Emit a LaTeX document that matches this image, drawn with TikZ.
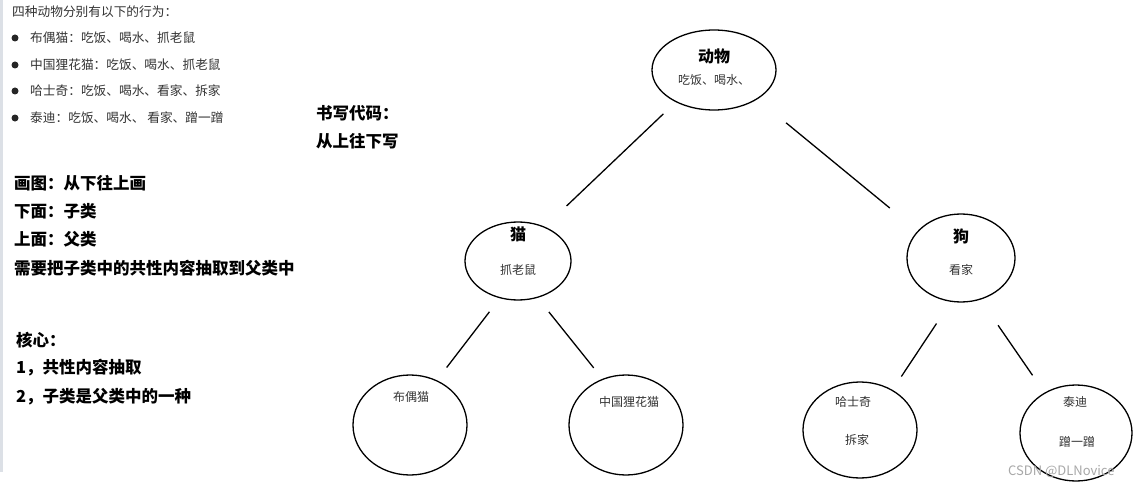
\documentclass[tikz,border=0pt]{standalone}
\usepackage{fontspec}
\usepackage{tikz}
\usetikzlibrary{shapes.geometric}
\newfontfamily\cjk{Noto Sans CJK SC}
\definecolor{ndgray}{HTML}{333333}
\definecolor{ndbar}{HTML}{DCE0E6}
\definecolor{ndmark}{HTML}{A8A8A8}
\tikzset{
  blob/.style   ={ellipse, draw=black, line width=1.3pt, inner sep=0pt},
  link/.style   ={draw=black, line width=1.3pt},
  kind/.style   ={font=\cjk\bfseries\fontsize{16}{18}\selectfont},
  act/.style    ={font=\cjk\fontsize{12}{14}\selectfont, text=ndgray},
  note/.style   ={anchor=west, inner sep=0pt, font=\cjk\fontsize{12.7}{14}\selectfont, text=ndgray},
  memo/.style   ={anchor=west, inner sep=0pt, font=\cjk\bfseries\fontsize{16.5}{18}\selectfont},
  bullet/.style ={circle, fill=black!85, minimum size=7pt, inner sep=0pt},
}
\begin{document}
\begin{tikzpicture}[x=1pt,y=-1pt]
    \fill[white] (0,0) rectangle (1133,487);
    \useasboundingbox (0,0) rectangle (1133,487);
    \fill[ndbar] (0,0) rectangle (3,472);
    % --- left notes ---
    \node[note] (intro) at (12,12) {四种动物分别有以下的行为：};
    \foreach \y/\txt [count=\i] in {38/布偶猫：吃饭、喝水、抓老鼠, 65/中国狸花猫：吃饭、喝水、抓老鼠,
        91/哈士奇：吃饭、喝水、看家、拆家, 118/泰迪：吃饭、喝水、 看家、蹭一蹭}{
      \node[bullet] (b\i) at (15,\y) {};
      \node[note] (l\i) at (30,\y) {\txt};
    }
    \node[memo] (m1) at (14,183) {画图：从下往上画};
    \node[memo] (m2) at (14,211) {下面：子类};
    \node[memo] (m3) at (14,239) {上面：父类};
    \node[memo] (m4) at (14,268) {需要把子类中的共性内容抽取到父类中};
    \node[memo] (m5) at (16,340) {核心：};
    \node[memo] (m6) at (16,368) {1，共性内容抽取};
    \node[memo] (m7) at (16,397) {2，子类是父类中的一种};
    \node[memo] (w1) at (316,113) {书写代码：};
    \node[memo] (w2) at (316,141) {从上往下写};
    % --- class tree ---
    \node[blob, minimum width=124pt, minimum height=80pt] (animal) at (714,70) {};
    \node[kind] at (714,56) {动物};
    \node[act] at (714,80) {吃饭、喝水、};
    \node[blob, minimum width=106pt, minimum height=78pt] (cat) at (518,261) {};
    \node[kind] at (518,234) {猫};
    \node[act] at (518,270) {抓老鼠};
    \node[blob, minimum width=108pt, minimum height=88pt] (dog) at (961,258) {};
    \node[kind] at (961,236) {狗};
    \node[act] at (961,270) {看家};
    \node[blob, minimum width=114pt, minimum height=100pt] (ragdoll) at (410,425) {};
    \node[act] at (411,397) {布偶猫};
    \node[blob, minimum width=114pt, minimum height=100pt] (lihua) at (626,425) {};
    \node[act] at (629,402) {中国狸花猫};
    \node[blob, minimum width=114pt, minimum height=96pt] (husky) at (860,430) {};
    \node[act] at (853,402) {哈士奇};
    \node[act] at (857,440) {拆家};
    \node[blob, minimum width=112pt, minimum height=96pt] (teddy) at (1076,433) {};
    \node[act] at (1075,402) {泰迪};
    \node[act] at (1077,442) {蹭一蹭};
    % --- links ---
    \draw[link, shorten <=17pt, shorten >=30pt] (animal.220) -- (cat.52);
    \draw[link, shorten <=37pt, shorten >=36pt] (animal.-34) -- (dog.148);
    \draw[link, shorten <=17pt, shorten >=16pt] (cat.244) -- (ragdoll.59);
    \draw[link, shorten <=18pt, shorten >=14pt] (cat.-62) -- (lihua.117);
    \draw[link, shorten <=26pt, shorten >=16pt] (dog.-103) -- (husky.51);
    \draw[link, shorten <=31pt, shorten >=21pt] (dog.-65) -- (teddy.128);
    \node[anchor=east, font=\cjk\fontsize{13}{15}\selectfont, text=ndmark] (mark) at (1118,472) {CSDN @DLNovice};
\end{tikzpicture}
\end{document}
